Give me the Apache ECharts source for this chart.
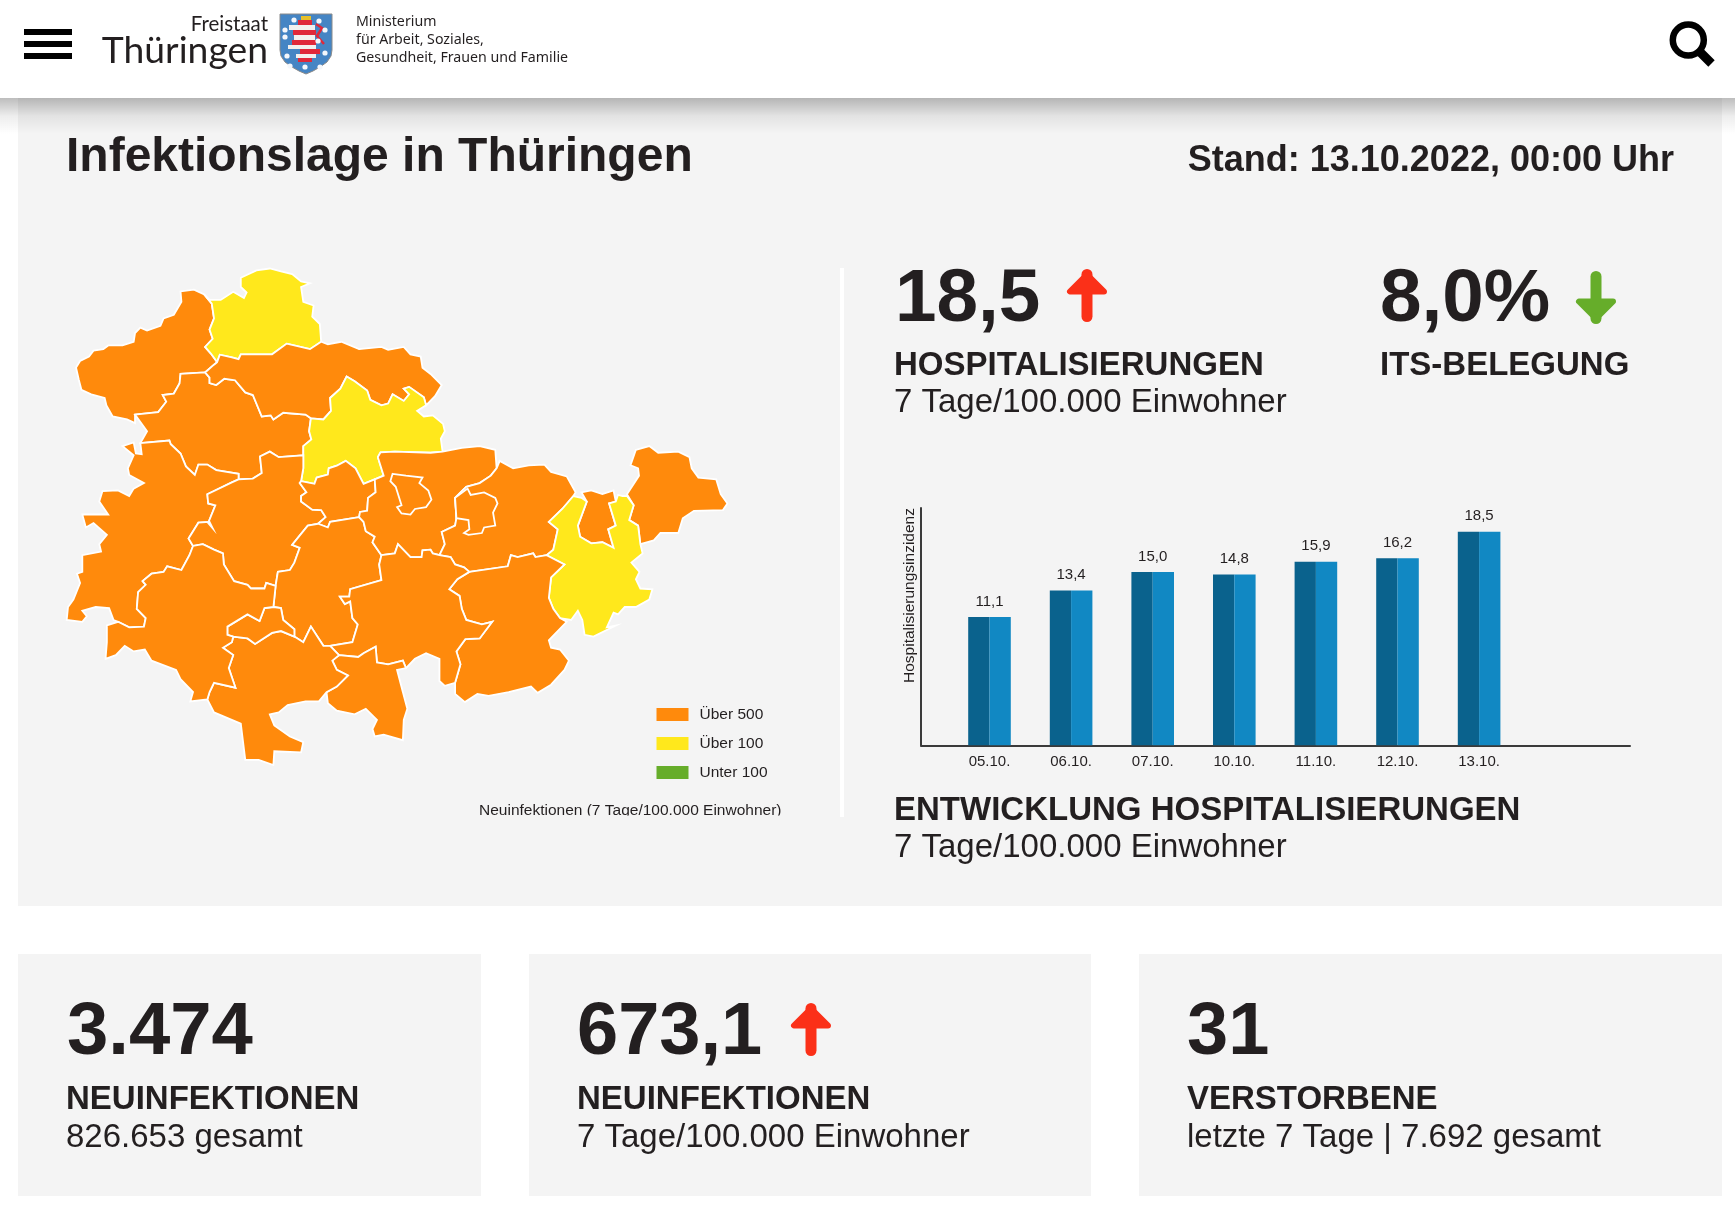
<!DOCTYPE html>
<html><head><meta charset="utf-8">
<style>html,body{margin:0;padding:0;background:#fff}#c{width:1735px;height:1214px}</style>
<script src="https://cdn.jsdelivr.net/npm/echarts@6/dist/echarts.min.js"></script>
</head><body><div id="c"></div>
<script>
const hospDates = ['05.10.','06.10.','07.10.','10.10.','11.10.','12.10.','13.10.'];
const hospValues = [11.1,13.4,15.0,14.8,15.9,16.2,18.5];
const legendLabels = ['Über 500','Über 100','Unter 100'];
const legendCodes = [2,1,0];
const legendColors = ['#ff8a0c','#ffe81c','#66ad2a'];
const regionNames = ['Eichsfeld','Nordhausen','Unstrut-Hainich-Kreis','Kyffhäuserkreis','Sömmerda','Wartburgkreis','Gotha','Erfurt','Ilm-Kreis','Weimarer Land','Weimar','Saale-Holzland-Kreis','Jena','Gera','Altenburger Land','Greiz','Saale-Orla-Kreis','Saalfeld-Rudolstadt','Sonneberg','Hildburghausen','Suhl','Schmalkalden-Meiningen'];
const regionClasses = [2,1,2,2,1,2,2,2,2,2,2,2,2,2,2,1,2,2,2,2,2,2];
const regionOutlines = [
'323,120 300,107 270,112 272,140 255,175 232,185 225,205 195,218 180,210 168,225 165,248 140,258 108,258 97,268 75,272 65,288 45,300 36,318 42,350 48,378 70,390 100,400 104,420 118,450 150,458 168,468 168,445 220,438 238,410 230,392 255,388 268,360 270,335 325,331 345,310 352,303 338,280 325,262 342,240 335,215 345,185 340,145',
'323,120 335,135 360,135 388,113 412,130 418,115 405,100 405,75 440,55 470,50 495,58 520,65 540,85 560,90 540,100 545,140 568,150 565,180 582,200 585,248 560,268 508,253 475,282 405,282 400,295 385,290 358,283 352,303 338,280 325,262 342,240 335,215 345,185 340,145',
'168,445 220,438 238,410 230,392 255,388 268,360 270,335 325,331 335,345 335,360 350,365 368,348 392,352 415,385 432,392 452,450 472,447 478,458 500,440 550,445 562,455 558,490 563,512 545,530 545,555 490,560 470,545 448,558 452,603 432,618 400,620 400,605 350,595 330,580 310,580 302,608 282,585 270,550 248,525 245,515 180,522 195,490',
'352,303 358,283 385,290 400,295 405,282 475,282 508,253 560,268 585,248 600,255 630,248 670,268 720,262 735,270 770,262 785,282 808,288 812,318 830,335 855,365 840,395 820,420 815,398 782,370 770,375 782,390 770,408 745,390 735,415 720,420 695,405 688,380 660,355 642,342 628,375 605,400 607,435 590,458 562,455 550,445 500,440 478,458 472,447 452,450 432,392 415,385 392,352 368,348 350,365 335,360 335,345 325,331 345,310',
'562,455 590,458 607,435 605,400 628,375 642,342 660,355 688,380 695,405 720,420 735,415 745,390 770,408 782,390 770,375 782,370 815,398 820,420 800,435 815,450 835,447 858,470 862,490 853,510 857,545 830,548 750,545 718,547 712,560 725,610 705,620 680,632 662,590 640,570 620,583 602,590 600,607 575,615 570,632 540,625 545,590 545,555 545,530 563,512 558,490',
'180,522 183,552 170,550 165,520 140,530 165,555 152,590 155,608 188,630 165,645 155,665 130,650 95,652 88,680 108,715 50,715 58,750 75,738 105,770 88,795 92,815 50,825 50,870 38,875 45,900 30,945 18,965 15,1000 50,1005 60,990 50,975 80,965 110,968 120,1000 130,1005 155,1020 188,1018 192,995 172,970 175,925 192,905 185,895 205,875 232,870 240,855 272,865 290,825 298,800 288,780 310,737 335,735 342,752 332,738 348,690 332,685 330,660 385,628 400,620 400,605 350,595 330,580 310,580 302,608 282,585 270,550 248,525 245,515',
'400,620 432,618 452,603 448,558 470,545 490,560 545,555 545,590 540,625 537,630 552,655 540,665 540,680 565,702 585,703 595,722 578,740 555,745 520,797 537,805 525,845 515,865 488,870 483,908 462,900 458,915 428,915 420,905 390,895 367,850 365,820 345,810 320,795 298,800 288,780 310,737 335,735 342,752 332,738 348,690 332,685 330,660 385,628',
'540,625 570,632 575,615 600,607 602,590 620,583 640,570 662,590 680,632 705,620 707,655 690,670 688,705 672,708 670,722 605,735 600,750 578,740 595,722 585,703 565,702 540,680 540,665 552,655 537,630',
'578,740 600,750 605,735 670,722 680,735 685,760 705,775 700,790 720,825 715,850 720,892 650,917 648,937 627,937 638,957 650,950 655,995 667,1012 655,1060 605,1070 590,1070 562,1018 545,1060 525,1045 525,1025 500,1000 495,968 478,965 483,908 488,870 515,865 525,845 537,805 520,797 555,745',
'705,620 725,610 712,560 718,547 750,545 830,548 857,545 900,535 940,530 975,540 978,590 965,610 940,630 910,640 885,670 888,725 885,745 855,762 862,795 850,825 835,820 830,810 812,812 810,830 785,830 757,795 750,820 720,825 700,790 705,775 685,760 680,735 670,722 672,708 688,705 690,670 707,655',
'745,605 775,610 812,615 805,630 825,650 832,675 820,695 795,700 785,715 765,712 755,695 765,690 752,640 740,625',
'978,590 985,570 1015,590 1050,582 1085,580 1100,600 1135,612 1155,655 1150,665 1125,700 1095,735 1115,755 1105,810 1090,825 1065,830 1060,820 1025,830 1010,825 1003,855 917,870 905,858 885,850 875,830 850,825 862,795 855,762 885,745 888,725 885,670 910,640 940,630 965,610',
'913,645 920,662 950,655 975,670 980,685 970,710 975,745 950,750 945,765 915,770 905,765 917,755 915,730 888,725 885,670',
'1168,655 1180,680 1160,745 1165,775 1190,793 1215,790 1240,805 1228,755 1245,745 1230,685 1245,680 1240,650 1215,660 1190,650',
'1290,540 1320,530 1340,548 1385,545 1410,560 1415,590 1430,615 1470,620 1480,660 1495,685 1485,703 1420,705 1395,725 1385,765 1345,765 1330,785 1300,795 1295,745 1275,730 1285,690 1270,660 1297,610 1295,590 1278,582',
'1150,665 1168,670 1180,680 1160,745 1165,775 1190,793 1215,790 1240,805 1228,755 1245,745 1230,685 1245,680 1250,662 1260,665 1270,665 1285,690 1275,730 1295,745 1300,795 1305,820 1280,845 1298,870 1290,890 1300,915 1327,917 1320,945 1290,965 1265,965 1250,985 1240,980 1225,1020 1245,1015 1195,1045 1175,1040 1170,1000 1160,975 1145,1000 1120,995 1105,970 1095,940 1100,885 1130,850 1090,825 1105,810 1115,755 1095,735 1125,700',
'917,870 1003,855 1010,825 1025,830 1060,820 1065,830 1090,825 1130,850 1100,885 1095,940 1105,970 1120,995 1135,1005 1095,1055 1100,1075 1120,1080 1140,1110 1130,1135 1100,1175 1070,1197 1055,1180 1005,1195 960,1205 935,1200 907,1222 885,1200 885,1170 897,1120 888,1085 908,1052 940,1050 968,1005 945,1012 910,1000 900,970 895,935 872,917 890,890',
'720,825 750,820 757,795 785,830 810,830 812,812 830,810 835,820 850,825 875,830 885,850 905,858 917,870 890,890 872,917 895,935 900,970 910,1000 945,1012 968,1005 940,1050 908,1052 888,1085 897,1120 885,1170 862,1178 850,1165 850,1105 820,1090 795,1105 775,1130 768,1110 735,1120 710,1115 707,1072 680,1090 668,1100 625,1095 605,1070 655,1060 667,1012 655,995 650,950 638,957 627,937 648,937 650,917 720,892 715,850',
'625,1095 668,1100 680,1090 707,1072 710,1115 735,1120 768,1110 775,1130 755,1135 768,1195 778,1240 770,1270 768,1325 725,1310 705,1315 700,1295 710,1270 685,1240 660,1255 620,1245 600,1225 597,1195 620,1180 645,1150 620,1135 610,1110',
'388,1045 420,1050 437,1065 475,1035 495,1030 525,1045 545,1060 562,1018 590,1070 605,1070 625,1095 610,1110 620,1135 645,1150 620,1180 597,1195 580,1220 550,1220 510,1230 490,1250 470,1255 480,1285 515,1315 545,1330 540,1358 480,1355 478,1392 445,1378 415,1378 405,1280 345,1250 330,1215 335,1195 345,1170 393,1183 378,1130 388,1095 365,1075 385,1060',
'375,1018 420,985 447,1003 458,968 478,965 495,968 500,1000 525,1025 525,1045 495,1030 475,1035 437,1065 420,1050 388,1045 375,1040',
'298,800 290,825 272,865 240,855 232,870 205,875 185,895 192,905 175,925 172,970 192,995 188,1018 155,1020 130,1005 105,1015 105,1060 102,1105 125,1095 145,1070 165,1085 190,1080 205,1110 260,1135 270,1160 298,1195 292,1220 330,1215 335,1195 345,1170 393,1183 378,1130 388,1095 365,1075 385,1060 388,1045 375,1040 375,1018 420,985 447,1003 458,968 478,965 483,908 462,900 458,915 428,915 420,905 390,895 367,850 365,820 345,810 320,795'
];

const FONT = '"Liberation Sans",Arial,sans-serif';
const INK = '#231f20';
const toPage = s => s.split(' ').map(p => { const [a,b] = p.split(',').map(Number); return [60 + a/2.24, -(250 + b/2.703)]; });
const features = regionNames.map((n,i) => {
  const ring = toPage(regionOutlines[i]); ring.push(ring[0]);
  return {type:'Feature',properties:{name:n},geometry:{type:'Polygon',coordinates:[ring]}};
});
echarts.registerMap('thueringen',{type:'FeatureCollection',features});
const all = features.flatMap(f => f.geometry.coordinates[0]);
const minX = Math.min(...all.map(p=>p[0])), maxX = Math.max(...all.map(p=>p[0]));
const minY = Math.min(...all.map(p=>-p[1])), maxY = Math.max(...all.map(p=>-p[1]));

const T = (x,base,text,size,weight,align,fam,fill,extra) => ({type:'text',z:5,silent:true,style:Object.assign({x,y:base-0.30*size,text,fontSize:size,fontWeight:weight||'normal',fontFamily:fam||FONT,fill:fill||INK,align:align||'left',verticalAlign:'middle'},extra||{})});
const R = (x,y,w,h,fill,z) => ({type:'rect',z:z===undefined?-10:z,silent:true,shape:{x,y,width:w,height:h},style:{fill}});
const arrow = (x,top,bot,dir,color) => {
  const tip = dir>0?top+3.5:bot-3.5, tail = dir>0?bot-5.5:top+5.5, hy = tip+dir*17;
  return [
    {type:'line',z:5,silent:true,shape:{x1:x,y1:tip,x2:x,y2:tail},style:{stroke:color,lineWidth:11,lineCap:'round'}},
    {type:'polygon',z:5,silent:true,shape:{points:[[x,tip],[x-17,hy],[x+17,hy]]},style:{fill:color,stroke:color,lineWidth:6,lineJoin:'round'}}
  ];
};
const crestStars = [[294,20],[319,21],[325,30],[285,30],[318,41],[285,37],[325,53],[287,56],[305,67],[290,66],[320,67]];
const crestOutline = [[280,14],[332,14],[332,50],[331,56],[327,62],[320,67],[313,71],[306,74],[299,71],[292,67],[285,62],[281,56],[280,50]];
const crest = [
  {type:'polygon',z:4,silent:true,shape:{points:crestOutline},style:{fill:'#4585c4',stroke:'#8a8a8a',lineWidth:1}},
  R(298,20,14,5,'#e0283a',5),R(289,25,26,5,'#f3f0ee',5),R(293,30,23,5,'#e0283a',5),R(294,35,21,5,'#f3f0ee',5),R(292,40,24,5,'#e0283a',5),R(288,45,28,4,'#f3f0ee',5),R(300,49,20,5,'#e0283a',5),R(296,54,20,4,'#f3f0ee',5),R(298,58,14,4,'#e0283a',5),
  {type:'polyline',z:5,silent:true,shape:{points:[[316,24],[322,28],[317,36],[324,44]]},style:{stroke:'#e0283a',lineWidth:2.5,fill:'none'}},
  R(301,16,10,4,'#e8c02a',6),
  ...crestStars.map(([x,y])=>({type:'circle',z:6,silent:true,shape:{cx:x,cy:y,r:2.6},style:{fill:'#f4f7fb'}}))
];
const graphics = [
  R(18,98,1704,808,'#f4f4f4'),
  R(18,954,463,242,'#f4f4f4'),R(529,954,562,242,'#f4f4f4'),R(1139,954,583,242,'#f4f4f4'),
  {type:'rect',z:-5,silent:true,shape:{x:0,y:98,width:1735,height:36},style:{fill:new echarts.graphic.LinearGradient(0,0,0,1,[{offset:0,color:'rgba(0,0,0,0.26)'},{offset:0.5,color:'rgba(0,0,0,0.07)'},{offset:1,color:'rgba(0,0,0,0)'}])}},
  R(24,29,48,6,'#000',5),R(24,41,48,6,'#000',5),R(24,53,48,6,'#000',5),
  {type:'circle',z:5,silent:true,shape:{cx:1688.3,cy:40,r:15.5},style:{fill:'none',stroke:'#000',lineWidth:6.5}},
  {type:'line',z:5,silent:true,shape:{x1:1700,y1:52,x2:1711.5,y2:63.5},style:{stroke:'#000',lineWidth:9}},
  T(268,31,'Freistaat',20.5,'normal','right','Lato'),
  T(268,62,'Thüringen',37.3,'normal','right','Lato'),
  ...crest,
  T(356,26,'Ministerium',14.2,'normal','left','"Noto Sans"'),
  T(356,44,'für Arbeit, Soziales,',14.2,'normal','left','"Noto Sans"'),
  T(356,62,'Gesundheit, Frauen und Familie',14.2,'normal','left','"Noto Sans"'),
  T(66,172,'Infektionslage in Thüringen',48,'bold'),
  T(1674,172,'Stand: 13.10.2022, 00:00 Uhr',36,'bold','right'),
  R(840,268,4,549,'#fff',-4),
  T(895,322.7,'18,5',74.7,'bold'),...arrow(1087,271,322,1,'#fb3018'),
  T(1380,322.7,'8,0%',74.7,'bold'),...arrow(1596,271,322,-1,'#66ad2a'),
  T(894,376,'HOSPITALISIERUNGEN',33,'bold'),
  T(894,412.7,'7 Tage/100.000 Einwohner',33),
  T(1380,376,'ITS-BELEGUNG',33,'bold'),
  T(894,821,'ENTWICKLUNG HOSPITALISIERUNGEN',33,'bold'),
  T(894,858,'7 Tage/100.000 Einwohner',33),
  T(479,815,'Neuinfektionen (7 Tage/100.000 Einwohner)',15.5),
  R(470,815.5,330,10,'#f4f4f4',6),
  T(67,1056,'3.474',74.3,'bold'),T(66,1110,'NEUINFEKTIONEN',33,'bold'),T(66,1148,'826.653 gesamt',33),
  T(577,1056,'673,1',74,'bold'),...arrow(811,1005,1056,1,'#fb3018'),T(577,1110,'NEUINFEKTIONEN',33,'bold'),T(577,1148,'7 Tage/100.000 Einwohner',33),
  T(1187,1056,'31',74,'bold'),T(1187,1110,'VERSTORBENE',33,'bold'),T(1187,1148,'letzte 7 Tage | 7.692 gesamt',33)
];

const chart = echarts.init(document.getElementById('c'),null,{width:1735,height:1214,renderer:'canvas'});
const gridTop = 508, gridH = 237.3, maxV = 20.55;
chart.setOption({
  backgroundColor:'#ffffff',
  animation:false,
  textStyle:{fontFamily:FONT},
  graphic:{elements:graphics},
  grid:[
    {left:921,top:gridTop,width:709,height:gridH},
    {left:948.7,top:gridTop,width:571.2,height:gridH}
  ],
  xAxis:[
    {gridIndex:0,type:'category',data:[''],axisTick:{show:false},axisLabel:{show:false},axisLine:{lineStyle:{color:'#3a3a3a',width:2}}},
    {gridIndex:1,type:'category',data:hospDates,axisTick:{show:false},axisLine:{show:false},axisLabel:{color:INK,fontSize:15,margin:9,fontFamily:FONT,interval:0}}
  ],
  yAxis:[
    {gridIndex:0,type:'value',min:0,max:maxV,splitLine:{show:false},axisLabel:{show:false},axisTick:{show:false},
     axisLine:{show:true,lineStyle:{color:'#3a3a3a',width:2}},
     name:'Hospitalisierungsinzidenz',nameLocation:'end',nameRotate:90,nameGap:-87.5,
     nameTextStyle:{color:INK,fontSize:15.5,fontFamily:FONT,align:'center',verticalAlign:'bottom',padding:[0,0,3,0]}},
    {gridIndex:1,type:'value',min:0,max:maxV,show:false}
  ],
  visualMap:{
    type:'piecewise',seriesIndex:3,left:641.5,top:691.5,orient:'vertical',itemWidth:32,itemHeight:13,itemGap:13,itemSymbol:'rect',textGap:11,selectedMode:false,
    textStyle:{color:INK,fontSize:15.5,fontFamily:FONT},showLabel:true,
    pieces:legendCodes.map((c,i)=>({value:c,label:legendLabels[i],color:legendColors[i]}))
  },
  series:[
    {type:'bar',xAxisIndex:1,yAxisIndex:1,data:hospValues,barWidth:21.3,barGap:0,itemStyle:{color:'#0a628d'},silent:true},
    {type:'bar',xAxisIndex:1,yAxisIndex:1,data:hospValues,barWidth:21.3,barGap:0,itemStyle:{color:'#1188c3'},silent:true},
    {type:'line',xAxisIndex:1,yAxisIndex:1,data:hospValues,silent:true,symbol:'circle',symbolSize:1,itemStyle:{color:'rgba(0,0,0,0)'},lineStyle:{width:0,opacity:0},
     label:{show:true,position:'top',distance:7.5,color:INK,fontSize:15,fontFamily:FONT,formatter:p=>p.value.toFixed(1).replace('.',',')}},
    {type:'map',map:'thueringen',aspectScale:1,left:minX,top:minY,width:maxX-minX,height:maxY-minY,silent:true,roam:false,selectedMode:false,
     label:{show:false},emphasis:{disabled:true},itemStyle:{borderColor:'#ffffff',borderWidth:1.8},
     data:regionNames.map((n,i)=>({name:n,value:regionClasses[i]}))}
  ]
});
</script></body></html>
